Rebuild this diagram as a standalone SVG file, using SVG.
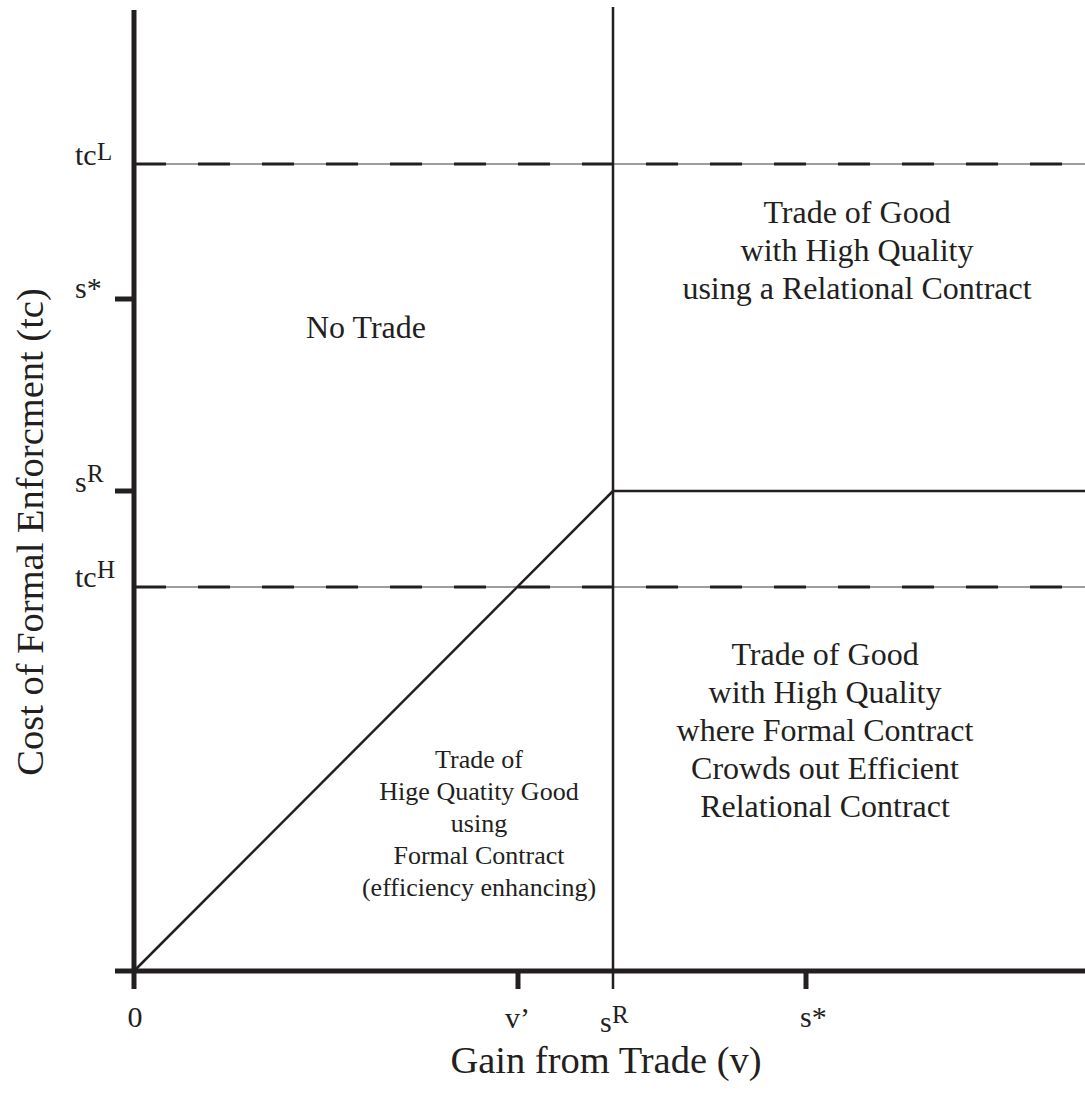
<svg xmlns="http://www.w3.org/2000/svg" width="1085" height="1095" viewBox="0 0 1085 1095">
<style>
text{font-family:"Liberation Serif","Times New Roman",serif;fill:#231f20}
.big{font-size:32px}
.title{font-size:38.5px}
.mid{font-size:26px}
.tick{font-size:30px}
.sup{font-size:25px}
.axis{stroke:#231f20;stroke-width:5;fill:none}
.thin{stroke:#231f20;stroke-width:2.5;fill:none}
.hair{stroke:#3a3a3a;stroke-width:1.2;fill:none}
.dash{stroke:#231f20;stroke-width:3.2;stroke-dasharray:32 32;fill:none}
</style>
<rect width="1085" height="1095" fill="#fff"/>
<g id="connectors">
<line class="hair" x1="134" y1="164" x2="1085" y2="164"/>
<line class="dash" x1="134" y1="164" x2="1085" y2="164"/>
<line class="hair" x1="134" y1="587" x2="1085" y2="587"/>
<line class="dash" x1="134" y1="587" x2="1085" y2="587"/>
<line class="thin" x1="613" y1="7" x2="613" y2="989"/>
<line class="thin" x1="613" y1="491" x2="1085" y2="491"/>
<line class="thin" x1="134" y1="971" x2="613" y2="491"/>
<line class="axis" x1="134" y1="10" x2="134" y2="989"/>
<line class="axis" x1="115" y1="971" x2="1085" y2="971"/>
<line class="axis" x1="115" y1="299" x2="134" y2="299"/>
<line class="axis" x1="115" y1="491" x2="134" y2="491"/>
<line class="axis" x1="518" y1="971" x2="518" y2="989"/>
<line class="axis" x1="806" y1="971" x2="806" y2="989"/>
</g>
<g id="y-labels">
<text class="tick" x="75" y="165">tc</text><text class="sup" x="97" y="160">L</text>
<text class="tick" x="75" y="298">s*</text>
<text class="tick" x="75" y="492">s</text><text class="sup" x="87" y="482">R</text>
<text class="tick" x="75" y="587">tc</text><text class="sup" x="97" y="578">H</text>
</g>
<g id="x-labels">
<text class="tick" x="135" y="1027" text-anchor="middle">0</text>
<text class="tick" x="505" y="1028">v’</text>
<text class="tick" x="600" y="1032">s</text><text class="sup" x="612" y="1023">R</text>
<text class="tick" x="800" y="1027">s*</text>
</g>
<g id="axis-titles">
<text class="title" x="606" y="1073" text-anchor="middle">Gain from Trade (v)</text>
<text class="title" transform="translate(43,532) rotate(-90)" text-anchor="middle">Cost of Formal Enforcment (tc)</text>
</g>
<g id="no-trade">
<text class="big" x="366" y="338" text-anchor="middle">No Trade</text>
</g>
<g id="relational">
<text class="big" text-anchor="middle"><tspan x="857" y="223">Trade of Good</tspan><tspan x="857" y="261">with High Quality</tspan><tspan x="857" y="299">using a Relational Contract</tspan></text>
</g>
<g id="crowd-out">
<text class="big" text-anchor="middle"><tspan x="825" y="665">Trade of Good</tspan><tspan x="825" y="703">with High Quality</tspan><tspan x="825" y="741">where Formal Contract</tspan><tspan x="825" y="779">Crowds out Efficient</tspan><tspan x="825" y="817">Relational Contract</tspan></text>
</g>
<g id="formal">
<text class="mid" text-anchor="middle"><tspan x="479" y="768">Trade of</tspan><tspan x="479" y="800">Hige Quatity Good</tspan><tspan x="479" y="832">using</tspan><tspan x="479" y="864">Formal Contract</tspan><tspan x="479" y="896">(efficiency enhancing)</tspan></text>
</g>
</svg>
